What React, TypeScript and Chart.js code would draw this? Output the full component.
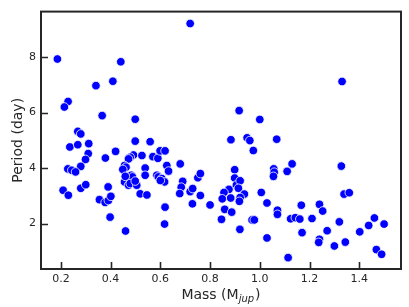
import React, { useEffect, useRef } from "react";
import { Chart, registerables } from "chart.js";

Chart.register(...registerables);

const MASS = [
  0.720, 0.186, 0.441, 0.409, 0.341, 0.229, 0.214, 0.366, 0.499, 0.268, 0.280,
  1.331, 0.917, 1.000, 0.884, 0.949, 0.960, 1.068, 0.974,
  0.236, 0.268, 0.312, 0.310, 0.299, 0.379, 0.420, 0.280, 0.228, 0.244, 0.259,
  0.209, 0.230, 0.280, 0.300, 0.355, 0.378, 0.391, 0.401, 0.390, 0.398, 0.460,
  0.499, 0.559,
  0.492, 0.479, 0.472, 0.526, 0.570, 0.590, 0.599, 0.619, 0.456, 0.462, 0.539,
  0.626, 0.633, 0.483, 0.488, 0.456, 0.472, 0.479, 0.505, 0.539, 0.586, 0.592,
  0.606, 0.617, 0.519, 0.546, 0.449, 0.459, 0.499, 0.600,
  0.619, 0.617, 0.680, 0.690, 0.684, 0.678, 0.720, 0.730, 0.729, 0.751, 0.761,
  0.761, 0.800,
  0.899, 0.899, 0.906, 0.921, 0.914, 0.876, 0.856, 0.849, 0.883, 0.938, 0.921,
  0.918, 0.859, 0.887, 0.846, 0.920, 0.969, 0.978, 1.006, 1.029, 1.056, 1.058,
  1.055, 1.029, 1.130, 1.110, 1.071, 1.071, 1.114, 1.124, 1.143, 1.161, 1.167,
  1.170, 1.210, 1.240, 1.253, 1.271, 1.240, 1.237, 1.300, 1.344, 1.320, 1.328,
  1.339, 1.360, 1.402, 1.438, 1.461, 1.500, 1.469, 1.490,
];

const PERIOD = [
  9.21, 7.93, 7.83, 7.13, 6.97, 6.40, 6.20, 5.89, 5.76, 5.32, 5.23,
  7.12, 6.07, 5.75, 5.02, 5.09, 4.99, 5.04, 4.63,
  4.76, 4.84, 4.88, 4.52, 4.31, 4.36, 4.60, 4.06, 3.97, 3.92, 3.86,
  3.20, 3.02, 3.27, 3.40, 2.86, 2.76, 2.83, 2.98, 3.32, 2.23, 1.73,
  4.97, 4.95,
  4.47, 4.39, 4.33, 4.45, 4.41, 4.35, 4.62, 4.62, 4.09, 4.03, 4.00,
  4.09, 3.89, 3.74, 3.68, 3.50, 3.38, 3.44, 3.38, 3.74, 3.74, 3.68,
  3.62, 3.50, 3.07, 3.03, 3.95, 3.70, 3.53, 3.55,
  2.59, 1.98, 4.15, 3.52, 3.31, 3.08, 3.15, 3.26, 2.71, 3.65, 3.80,
  3.01, 2.67,
  3.94, 3.64, 3.39, 3.54, 3.27, 3.23, 3.12, 2.89, 2.92, 3.06, 2.94,
  2.80, 2.51, 2.41, 2.15, 1.79, 2.13, 2.13, 3.12, 2.74, 3.97, 3.85,
  3.70, 1.48, 4.15, 3.88, 2.48, 2.33, 0.77, 2.17, 2.21, 2.16, 2.66,
  1.67, 2.18, 2.69, 2.45, 1.74, 1.43, 1.32, 1.19, 1.33, 2.06, 4.07,
  3.06, 3.11, 1.70, 1.93, 2.20, 1.98, 1.06, 0.89,
];

const X_TICKS = [0.2, 0.4, 0.6, 0.8, 1.0, 1.2, 1.4];
const Y_TICKS = [2, 4, 6, 8];
const X_TITLE_MAIN = "Mass (M";
const X_TITLE_SUB = "jup";
const X_TITLE_END = ")";
const Y_TITLE = "Period (day)";

const AXIS_COLOR = "#262626";
const FONT = "'DejaVu Sans', sans-serif";

const framePlugin = {
  id: "frame",
  afterDraw(chart: any) {
    const { ctx, chartArea } = chart;
    const { left, right, top, bottom } = chartArea;
    const xs = chart.scales.x;
    const ys = chart.scales.y;
    ctx.save();
    ctx.strokeStyle = AXIS_COLOR;
    ctx.lineWidth = 2;
    ctx.strokeRect(left, top, right - left, bottom - top);
    ctx.lineWidth = 1.6;
    ctx.beginPath();
    X_TICKS.forEach((v) => {
      const px = Math.round(xs.getPixelForValue(v)) + 0.5;
      ctx.moveTo(px, bottom);
      ctx.lineTo(px, bottom - 7);
    });
    Y_TICKS.forEach((v) => {
      const py = Math.round(ys.getPixelForValue(v)) + 0.5;
      ctx.moveTo(left, py);
      ctx.lineTo(left + 7, py);
    });
    ctx.stroke();

    // x-axis title with italic subscript
    ctx.fillStyle = AXIS_COLOR;
    ctx.textBaseline = "alphabetic";
    ctx.textAlign = "left";
    const mainFont = "14px " + FONT;
    const subFont = "italic 10px " + FONT;
    ctx.font = mainFont;
    const w1 = ctx.measureText(X_TITLE_MAIN).width;
    const w3 = ctx.measureText(X_TITLE_END).width;
    ctx.font = subFont;
    const w2 = ctx.measureText(X_TITLE_SUB).width;
    const total = w1 + w2 + w3 + 1;
    let x0 = (left + right) / 2 - total / 2;
    const base = 299;
    ctx.font = mainFont;
    ctx.fillText(X_TITLE_MAIN, x0, base);
    ctx.font = subFont;
    ctx.fillText(X_TITLE_SUB, x0 + w1, base + 2.5);
    ctx.font = mainFont;
    ctx.fillText(X_TITLE_END, x0 + w1 + w2 + 1, base);
    ctx.restore();
  },
};

export default function App() {
  const ref = useRef<HTMLCanvasElement | null>(null);

  useEffect(() => {
    if (!ref.current) return;
    const points = MASS.map((m, i) => ({ x: m, y: PERIOD[i] }));
    const chart = new Chart(ref.current, {
      type: "scatter",
      data: {
        datasets: [
          {
            data: points,
            backgroundColor: "#0000ff",
            borderColor: "#ffffff",
            borderWidth: 0.8,
            pointRadius: 4.3,
            pointHoverRadius: 4.3,
          },
        ],
      },
      options: {
        animation: false,
        responsive: false,
        events: [],
        layout: { padding: { top: 6, right: 8, left: 0, bottom: 0 } },
        plugins: { legend: { display: false }, tooltip: { enabled: false } },
        scales: {
          x: {
            type: "linear",
            min: 0.12,
            max: 1.568,
            border: { display: false },
            grid: { display: false, drawTicks: false, tickLength: 0 },
            afterBuildTicks: (s: any) => {
              s.ticks = X_TICKS.map((v) => ({ value: v }));
            },
            afterFit: (s: any) => {
              s.height = 38;
            },
            ticks: {
              padding: 4,
              color: AXIS_COLOR,
              font: { family: FONT, size: 11 },
              maxRotation: 0,
              autoSkip: false,
              callback: (v: any) => Number(v).toFixed(1),
            },
          },
          y: {
            type: "linear",
            min: 0.36,
            max: 9.64,
            border: { display: false },
            grid: { display: false, drawTicks: false, tickLength: 0 },
            afterBuildTicks: (s: any) => {
              s.ticks = Y_TICKS.map((v) => ({ value: v }));
            },
            afterFit: (s: any) => {
              s.width = 41;
            },
            title: {
              display: true,
              text: Y_TITLE,
              color: AXIS_COLOR,
              font: { family: FONT, size: 14 },
              padding: { top: 10, bottom: 0 },
            },
            ticks: {
              padding: 5,
              color: AXIS_COLOR,
              font: { family: FONT, size: 11 },
              autoSkip: false,
              callback: (v: any) => String(v),
            },
          },
        },
      },
      plugins: [framePlugin],
    });
    return () => chart.destroy();
  }, []);

  return (
    <div style={{ position: "absolute", left: 0, top: 0, width: 409, height: 307, background: "#fff" }}>
      <canvas ref={ref} width={409} height={307} style={{ display: "block" }} />
    </div>
  );
}
